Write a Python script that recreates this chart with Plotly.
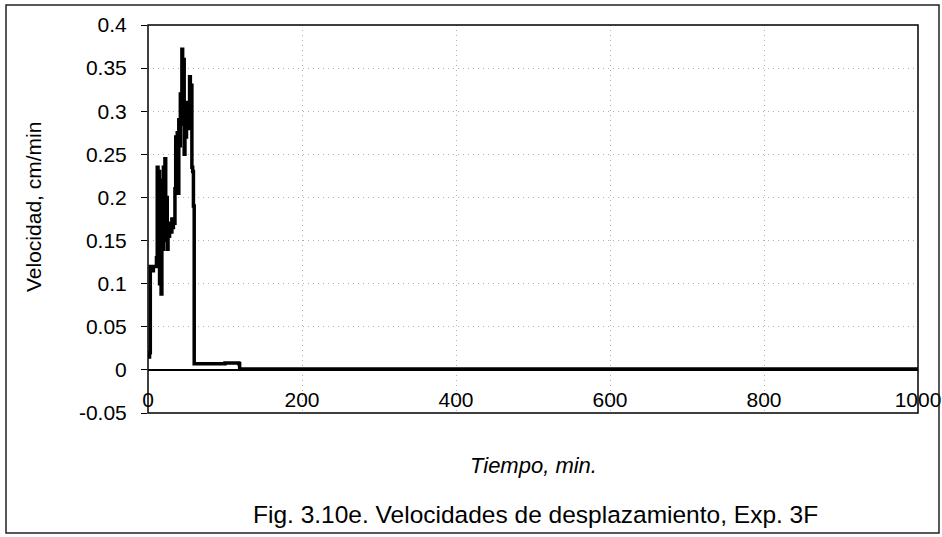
import plotly.graph_objects as go

# Time (min) and velocity (cm/min)
tiempo = [0, 2, 3, 5, 7, 9, 11, 12, 13, 14, 15, 16, 17, 18, 19, 20, 21, 22, 23, 24,
          25, 26, 27, 28, 29, 30, 31, 32, 33, 34, 35, 36, 37, 38, 39, 40, 41, 42, 43,
          44, 45, 46, 47, 48, 49, 50, 51, 52, 53, 54, 55, 56, 57, 58, 59, 60, 61,
          80, 100, 118, 119, 200, 400, 600, 800, 1000]
velocidad = [0.015, 0.02, 0.12, 0.115, 0.12, 0.12, 0.13, 0.235, 0.12, 0.23, 0.10, 0.22,
             0.088, 0.19, 0.14, 0.235, 0.16, 0.245, 0.15, 0.20, 0.14, 0.17, 0.155, 0.165,
             0.17, 0.16, 0.175, 0.165, 0.17, 0.17, 0.21, 0.27, 0.22, 0.275, 0.205, 0.29,
             0.26, 0.32, 0.29, 0.372, 0.285, 0.36, 0.25, 0.30, 0.27, 0.31, 0.28, 0.30,
             0.28, 0.34, 0.29, 0.33, 0.235, 0.23, 0.19, 0.007, 0.007,
             0.007, 0.008, 0.007, 0.001, 0.001, 0.001, 0.001, 0.001, 0.001]

y_ticks = [-0.05, 0, 0.05, 0.1, 0.15, 0.2, 0.25, 0.3, 0.35, 0.4]
y_tick_text = ["-0.05", "0", "0.05", "0.1", "0.15", "0.2", "0.25", "0.3", "0.35", "0.4"]
x_ticks = [0, 200, 400, 600, 800, 1000]
x_tick_text = ["0", "200", "400", "600", "800", "1000"]

FONT = "Liberation Sans, Arial, sans-serif"

fig = go.Figure()
fig.add_trace(go.Scatter(x=tiempo, y=velocidad, mode="lines",
                         line=dict(color="black", width=3.5, shape="hv"),
                         showlegend=False))

W, H = 942, 537
L, R, T, B = 148, 24, 25, 124
pw, ph = W - L - R, H - T - B

def px_x(p):
    return (p - L) / pw

def px_y(p):
    return (H - B - p) / ph

GRID = dict(showgrid=True, gridcolor="#b0b0b0", griddash="1px,4px", gridwidth=1)

fig.update_layout(
    width=W, height=H,
    margin=dict(l=L, r=R, t=T, b=B, autoexpand=False),
    paper_bgcolor="white", plot_bgcolor="white",
    font=dict(family=FONT, size=21, color="black"),
    xaxis=dict(range=[0, 1000], tickvals=x_ticks, ticktext=x_tick_text,
               anchor="free", position=0.05 / 0.45, automargin=False,
               showline=True, linecolor="black", linewidth=1.5,
               ticks="", ticklabelstandoff=11,
               zeroline=False, **GRID),
    yaxis=dict(range=[-0.05, 0.4], tickvals=y_ticks, ticktext=y_tick_text,
               automargin=False,
               showline=False, ticks="outside", ticklen=6, tickcolor="black",
               ticklabelstandoff=10,
               zeroline=False, **GRID),
    shapes=[
        dict(type="rect", xref="paper", yref="paper", x0=0, x1=1, y0=0, y1=1,
             line=dict(color="black", width=1.5), layer="above"),
        dict(type="rect", xref="paper", yref="paper",
             x0=px_x(6), x1=px_x(939), y0=px_y(533), y1=px_y(5),
             line=dict(color="#222222", width=1.5), layer="above"),
    ],
    annotations=[
        dict(text="Velocidad, cm/min", xref="paper", yref="paper",
             x=px_x(33), y=px_y(207), textangle=-90, showarrow=False,
             xanchor="center", yanchor="middle", font=dict(size=21)),
        dict(text="<i>Tiempo, min.</i>", xref="paper", yref="paper",
             x=px_x(533), y=px_y(465), showarrow=False,
             xanchor="center", yanchor="middle", font=dict(size=22)),
        dict(text="Fig. 3.10e. Velocidades de desplazamiento, Exp. 3F",
             xref="paper", yref="paper",
             x=px_x(535), y=px_y(514), showarrow=False,
             xanchor="center", yanchor="middle", font=dict(size=24.5)),
    ],
)

fig.write_html("out.html",
               config={"displayModeBar": False},
               post_script="document.body.style.margin='0';document.body.style.overflow='hidden';")
